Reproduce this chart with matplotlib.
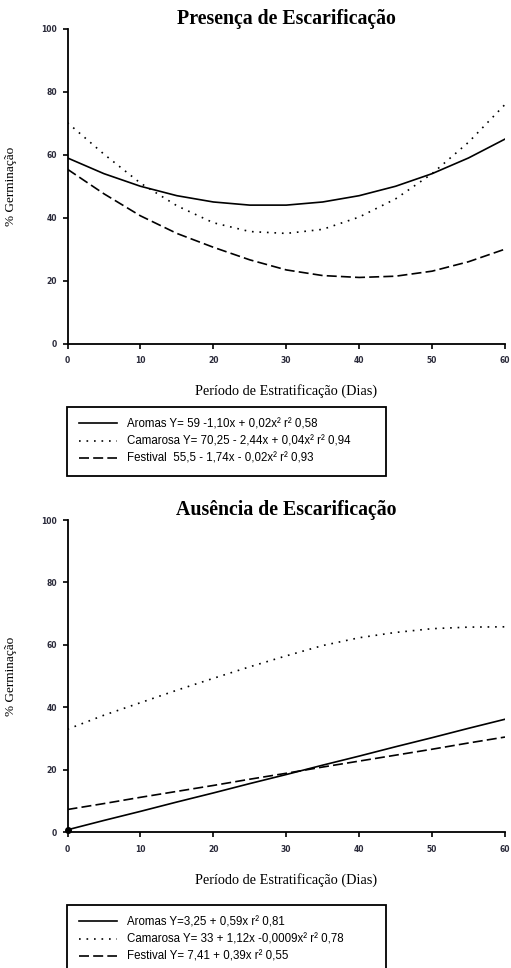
import matplotlib
matplotlib.use("Agg")
import matplotlib.pyplot as plt

# dias de estratificacao
days = [0, 5, 10, 15, 20, 25, 30, 35, 40, 45, 50, 55, 60]

# Presenca de escarificacao (% germinacao)
aromas_p = [59.0, 54.0, 50.0, 47.0, 45.0, 44.0, 44.0, 45.0, 47.0, 50.0, 54.0, 59.0, 65.0]
camarosa_p = [70.2, 60.2, 51.0, 43.8, 38.4, 35.6, 35.0, 36.3, 40.2, 46.0, 54.0, 64.0, 76.0]
festival_p = [55.4, 47.6, 40.6, 35.0, 30.6, 26.6, 23.4, 21.6, 21.0, 21.4, 23.0, 26.0, 30.0]

# Ausencia de escarificacao
aromas_a = [0.8, 3.8, 6.7, 9.7, 12.6, 15.6, 18.5, 21.5, 24.4, 27.4, 30.3, 33.3, 36.2]
camarosa_a = [33.0, 37.5, 41.5, 45.5, 49.3, 53.0, 56.5, 59.8, 62.3, 64.0, 65.2, 65.7, 65.8]
festival_a = [7.3, 9.2, 11.2, 13.1, 15.0, 17.0, 18.9, 20.9, 22.8, 24.7, 26.6, 28.6, 30.5]

labels_p = ["Aromas Y= 59 -1,10x + 0,02x² r² 0,58",
            "Camarosa Y= 70,25 - 2,44x + 0,04x² r² 0,94",
            "Festival  55,5 - 1,74x - 0,02x² r² 0,93"]
labels_a = ["Aromas Y=3,25 + 0,59x r² 0,81",
            "Camarosa Y= 33 + 1,12x -0,0009x² r² 0,78",
            "Festival Y= 7,41 + 0,39x r² 0,55"]

xticks = [0, 10, 20, 30, 40, 50, 60]
yticks = [0, 20, 40, 60, 80, 100]

W, H = 511, 968
fig = plt.figure(figsize=(W / 100, H / 100), dpi=100)

styles = [dict(ls="-"), dict(ls=(0, (1, 3.5))), dict(ls=(0, (6, 2.5)))]


def make_axes(top_px, bottom_px, title, series, labels, legend_top, marker=False):
    ax = fig.add_axes([67.5 / W, 1 - bottom_px / H, (505 - 67.5) / W, (bottom_px - top_px) / H])
    lines = []
    for ys, st in zip(series, styles):
        ln, = ax.plot(days, ys, color="black", lw=1.2, **st)
        lines.append(ln)
    if marker:
        ax.plot(days[0], series[0][0], "o", color="black", ms=4, clip_on=False, zorder=5)
    ax.set_xlim(0, 60)
    ax.set_ylim(0, 100)
    ax.set_xticks(xticks)
    ax.set_yticks(yticks)
    for s in ["top", "right"]:
        ax.spines[s].set_visible(False)
    for s in ["left", "bottom"]:
        ax.spines[s].set_linewidth(1.3)
    ax.tick_params(axis="both", direction="out", length=3.5, width=1.2, labelsize=5.5,
                   labelcolor="#2a2a3a")
    for lb in ax.get_xticklabels() + ax.get_yticklabels():
        lb.set_fontweight("bold")
    ax.tick_params(axis="x", pad=5.5)
    ax.tick_params(axis="y", pad=4)
    ax.set_title(title, fontfamily="Liberation Serif", fontweight="bold", fontsize=14.3, pad=0.5)
    ax.set_ylabel("% Germinação", fontfamily="Liberation Serif", fontsize=9.5)
    ax.yaxis.set_label_coords(-0.115, 0.5)
    ax.set_xlabel("Período de Estratificação (Dias)", fontfamily="Liberation Serif", fontsize=10.3)
    ax.xaxis.set_label_coords(0.5, -0.13)
    leg = fig.legend(lines, labels, loc="upper left",
                     bbox_to_anchor=(67 / W, 1 - legend_top / H - 0.07, (386 - 67) / W, 0.07),
                     mode="expand", prop={"family": "Liberation Sans", "size": 8.3},
                     handlelength=3.3, handletextpad=0.9, labelspacing=0.45,
                     borderpad=1.0, borderaxespad=0, fancybox=False, framealpha=1,
                     edgecolor="black")
    leg.get_frame().set_linewidth(1.3)
    return ax


make_axes(29, 343.5, "Presença de Escarificação", [aromas_p, camarosa_p, festival_p],
          labels_p, 407)
make_axes(520, 832.3, "Ausência de Escarificação", [aromas_a, camarosa_a, festival_a],
          labels_a, 905, marker=True)

fig.savefig("out.png", dpi=100)
